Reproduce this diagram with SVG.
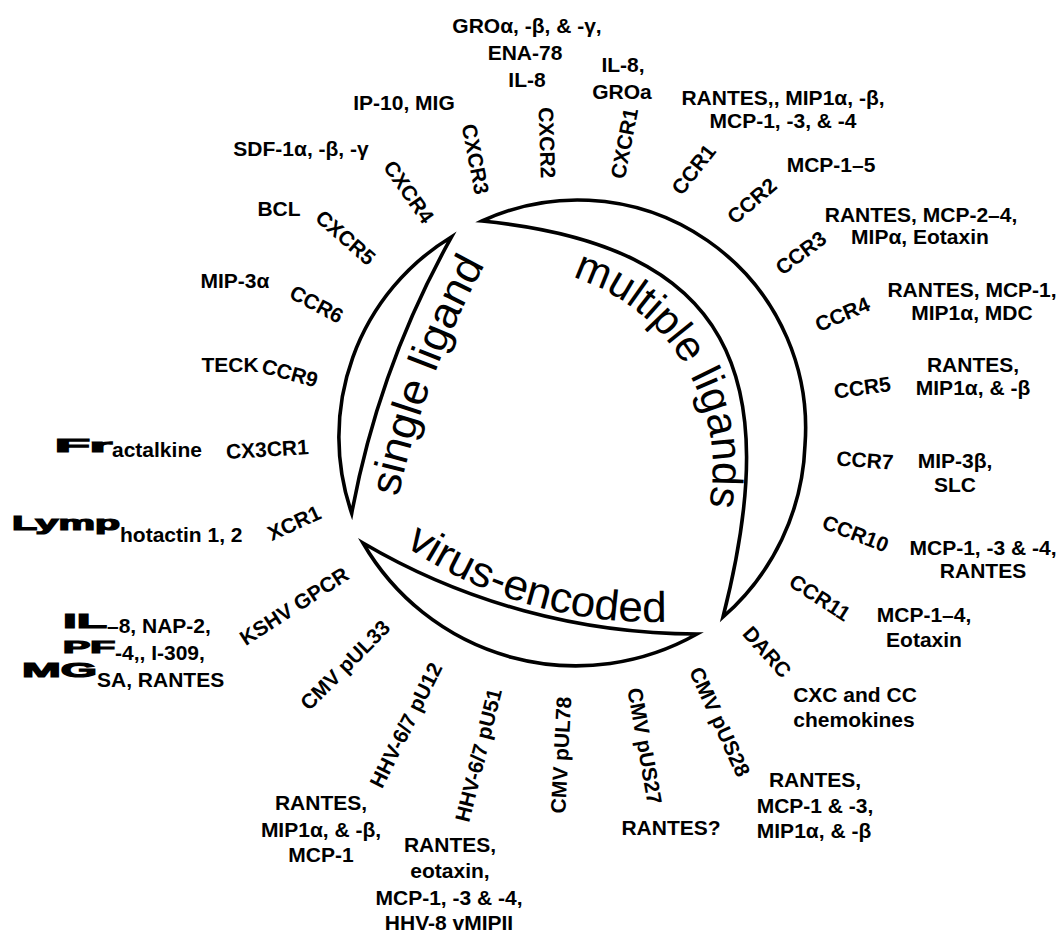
<svg xmlns="http://www.w3.org/2000/svg" xmlns:xlink="http://www.w3.org/1999/xlink" width="1064" height="937" viewBox="0 0 1064 937">
<style>
text { font-family: "Liberation Sans", Arial, Helvetica, sans-serif; fill: #000; }
.l { font-weight: bold; font-size: 21px; text-anchor: middle; }
.ls { font-weight: bold; font-size: 21px; }
.st { stroke: #000; stroke-width: 1.2; }
.r { font-weight: bold; font-size: 21px; text-anchor: middle; }
.big { font-size: 43px; font-weight: normal; }
.cres { fill: #fff; stroke: #000; stroke-width: 3.6; stroke-linejoin: miter; stroke-miterlimit: 12; }
</style>
<defs>
<path id="p-single" d="M398.4,497 A857,857 0 0 1 499,240"/>
<path id="p-multi" d="M572.2,277.2 A199.2,199.2 0 0 1 700.7,535.7"/>
<path id="p-virus" d="M405,546 A438,438 0 0 0 697.3,619.6"/>
</defs>
<rect width="1064" height="937" fill="#fff"/>

<g id="category-single-ligand">
<path class="cres" d="M451.7,236.7 A234,234 0 0 0 351.7,513.3 A900,900 0 0 1 451.7,236.7 Z"/>
<text class="big"><textPath xlink:href="#p-single" href="#p-single" textLength="249" lengthAdjust="spacingAndGlyphs">single ligand</textPath></text>
</g>
<g id="category-multiple-ligands">
<path class="cres" d="M482,221 A228,228 0 0 1 805,445 A240,240 0 0 1 723,617 C784.8,374.8 732,246 482,221 Z"/>
<text class="big"><textPath xlink:href="#p-multi" href="#p-multi" textLength="292" lengthAdjust="spacingAndGlyphs">multiple ligands</textPath></text>
</g>
<g id="category-virus-encoded">
<path class="cres" d="M363,543 A246,246 0 0 0 697,634 A660,660 0 0 1 363,543 Z"/>
<text class="big"><textPath xlink:href="#p-virus" href="#p-virus" textLength="277" lengthAdjust="spacingAndGlyphs">virus-encoded</textPath></text>
</g>

<g id="connectors"></g>

<g id="node-CXCR2">
<text class="r" transform="translate(547.3,142.7) rotate(88)" dy="0.36em">CXCR2</text>
<text class="l" x="527" y="33">GROα, -β, &amp; -γ,</text>
<text class="l" x="525" y="60">ENA-78</text>
<text class="l" x="527" y="87">IL-8</text>
</g>
<g id="node-CXCR1">
<text class="r" transform="translate(624,143.3) rotate(-79)" dy="0.36em">CXCR1</text>
<text class="l" x="623" y="72">IL-8,</text>
<text class="l" x="622" y="99">GROa</text>
</g>
<g id="node-CXCR3">
<text class="r" transform="translate(475.7,159) rotate(79)" dy="0.36em">CXCR3</text>
<text class="l" x="404" y="110">IP-10, MIG</text>
</g>
<g id="node-CXCR4">
<text class="r" transform="translate(409,191.7) rotate(55)" dy="0.36em">CXCR4</text>
<text class="l" x="301" y="156">SDF-1α, -β, -γ</text>
</g>
<g id="node-CXCR5">
<text class="r" transform="translate(345.7,237.3) rotate(41)" dy="0.36em">CXCR5</text>
<text class="l" x="279" y="216">BCL</text>
</g>
<g id="node-CCR6">
<text class="r" transform="translate(316.7,304) rotate(28)" dy="0.36em">CCR6</text>
<text class="l" x="235" y="288">MIP-3α</text>
</g>
<g id="node-CCR9">
<text class="r" transform="translate(290,372.7) rotate(15)" dy="0.36em">CCR9</text>
<text class="l" x="230" y="372">TECK</text>
</g>
<g id="node-CX3CR1">
<text class="r" transform="translate(267.3,449) rotate(-3.5)" dy="0.36em">CX3CR1</text>
<text class="ls" y="457"><tspan class="st" x="55" y="452" font-size="18" textLength="57" lengthAdjust="spacingAndGlyphs">Fr</tspan><tspan x="112" y="457">actalkine</tspan></text>
</g>
<g id="node-XCR1">
<text class="r" transform="translate(294,522.7) rotate(-24.6)" dy="0.36em">XCR1</text>
<text class="ls" y="542"><tspan class="st" x="12" y="530" font-size="20" textLength="108" lengthAdjust="spacingAndGlyphs">Lymp</tspan><tspan x="120" y="542">hotactin 1, 2</tspan></text>
</g>
<g id="node-KSHV-GPCR">
<text class="r" transform="translate(294,606) rotate(-33)" dy="0.36em">KSHV GPCR</text>
<text class="ls"><tspan class="st" x="63" y="628" textLength="44" lengthAdjust="spacingAndGlyphs">IL</tspan><tspan x="107" y="633">–8, NAP-2,</tspan></text>
<text class="ls"><tspan class="st" x="63" y="653" font-size="17" textLength="52" lengthAdjust="spacingAndGlyphs">PF</tspan><tspan x="115" y="660">-4,, I-309,</tspan></text>
<text class="ls"><tspan class="st" x="22" y="677" textLength="75" lengthAdjust="spacingAndGlyphs">MG</tspan><tspan x="97" y="687">SA, RANTES</tspan></text>
</g>
<g id="node-CMV-pUL33">
<text class="r" transform="translate(345,665) rotate(-45)" dy="0.36em">CMV pUL33</text>
</g>
<g id="node-HHV-pU12">
<text class="r" transform="translate(405.7,725) rotate(-63.6)" dy="0.36em">HHV-6/7 pU12</text>
<text class="l" x="321" y="810">RANTES,</text>
<text class="l" x="321" y="837">MIP1α, &amp; -β,</text>
<text class="l" x="321" y="862">MCP-1</text>
</g>
<g id="node-HHV-pU51">
<text class="r" transform="translate(478.3,755) rotate(-76)" dy="0.36em">HHV-6/7 pU51</text>
<text class="l" x="450" y="852">RANTES,</text>
<text class="l" x="450" y="878">eotaxin,</text>
<text class="l" x="449" y="905">MCP-1, -3 &amp; -4,</text>
<text class="l" x="449" y="930">HHV-8 vMIPII</text>
</g>
<g id="node-CMV-pUL78">
<text class="r" transform="translate(560.7,755) rotate(-87)" dy="0.36em">CMV pUL78</text>
</g>
<g id="node-CMV-pUS27">
<text class="r" transform="translate(645,746) rotate(80)" dy="0.36em">CMV pUS27</text>
<text class="l" x="671" y="835">RANTES?</text>
</g>
<g id="node-CMV-pUS28">
<text class="r" transform="translate(720,721.7) rotate(65.5)" dy="0.36em">CMV pUS28</text>
<text class="l" x="815" y="787">RANTES,</text>
<text class="l" x="815" y="813">MCP-1 &amp; -3,</text>
<text class="l" x="814" y="838">MIP1α, &amp; -β</text>
</g>
<g id="node-DARC">
<text class="r" transform="translate(767.3,651.7) rotate(48)" dy="0.36em">DARC</text>
<text class="l" x="855" y="702">CXC and CC</text>
<text class="l" x="854" y="727">chemokines</text>
</g>
<g id="node-CCR11">
<text class="r" transform="translate(820,597.3) rotate(33)" dy="0.36em">CCR11</text>
<text class="l" x="924" y="622">MCP-1–4,</text>
<text class="l" x="924" y="647">Eotaxin</text>
</g>
<g id="node-CCR10">
<text class="r" transform="translate(855.7,533.3) rotate(21)" dy="0.36em">CCR10</text>
<text class="l" x="983" y="555">MCP-1, -3 &amp; -4,</text>
<text class="l" x="983" y="578">RANTES</text>
</g>
<g id="node-CCR7">
<text class="r" transform="translate(865,460) rotate(4)" dy="0.36em">CCR7</text>
<text class="l" x="955" y="468">MIP-3β,</text>
<text class="l" x="955" y="492">SLC</text>
</g>
<g id="node-CCR5">
<text class="r" transform="translate(862.3,387.3) rotate(-8)" dy="0.36em">CCR5</text>
<text class="l" x="973" y="372">RANTES,</text>
<text class="l" x="973" y="395">MIP1α, &amp; -β</text>
</g>
<g id="node-CCR4">
<text class="r" transform="translate(842.3,314) rotate(-23)" dy="0.36em">CCR4</text>
<text class="l" x="972" y="297">RANTES, MCP-1,</text>
<text class="l" x="972" y="320">MIP1α, MDC</text>
</g>
<g id="node-CCR3">
<text class="r" transform="translate(800.7,252.7) rotate(-37)" dy="0.36em">CCR3</text>
<text class="l" x="921" y="222">RANTES, MCP-2–4,</text>
<text class="l" x="920" y="244">MIPα, Eotaxin</text>
</g>
<g id="node-CCR2">
<text class="r" transform="translate(751.7,200.7) rotate(-41)" dy="0.36em">CCR2</text>
<text class="l" x="831" y="172">MCP-1–5</text>
</g>
<g id="node-CCR1">
<text class="r" transform="translate(693.3,169.3) rotate(-52)" dy="0.36em">CCR1</text>
<text class="l" x="783" y="105">RANTES,, MIP1α, -β,</text>
<text class="l" x="783" y="128">MCP-1, -3, &amp; -4</text>
</g>
</svg>
